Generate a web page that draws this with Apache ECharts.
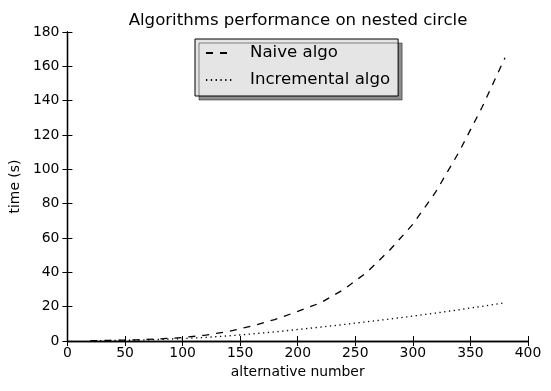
<!DOCTYPE html>
<html>
<head>
<meta charset="utf-8">
<script src="https://cdn.jsdelivr.net/npm/echarts@6/dist/echarts.min.js"></script>
<style>html,body{margin:0;padding:0;background:#fff}#c{width:551px;height:391px}</style>
</head>
<body>
<div id="c"></div>
<script>
var xValues = [20, 40, 60, 80, 100, 120, 140, 160, 180, 200, 220, 240, 260, 280, 300, 320, 340, 360, 380];
var naiveTimes = [0.2, 0.4, 0.7, 1.2, 2.0, 3.4, 5.6, 8.7, 12.5, 17.2, 22.3, 30, 40, 53, 68, 87, 110, 136, 165];
var incrementalTimes = [0.1, 0.3, 0.5, 0.9, 1.4, 2.1, 3.0, 4.1, 5.3, 6.7, 8.1, 9.6, 11.2, 12.8, 14.5, 16.3, 18.2, 20.2, 22.3];
var xTicks = {min: 0, max: 400, interval: 50};
var yTicks = {min: 0, max: 180, interval: 20};

var FONT = 'DejaVu Sans';
function pairs(xs, ys) { return xs.map(function (x, i) { return [x, ys[i]]; }); }

var frameAxis = {
  axisLine: {show: true, lineStyle: {color: '#000', width: 1.3}},
  axisTick: {show: true, inside: true, length: 5, lineStyle: {color: '#000', width: 1}},
  splitLine: {show: false}
};

var chart = echarts.init(document.getElementById('c'), null, {renderer: 'canvas'});
chart.setOption({
  animation: false,
  backgroundColor: '#fff',
  title: {
    text: 'Algorithms performance on nested circle',
    left: 293, textAlign: 'center', top: 7,
    textStyle: {fontFamily: FONT, fontSize: 16.6, fontWeight: 'normal', color: '#000'}
  },
  grid: {left: 64, right: 23, top: 32, bottom: 50, containLabel: false},
  legend: {
    orient: 'vertical',
    left: 195, top: 39,
    padding: [4, 8, 6, 10],
    itemWidth: 27, itemHeight: 20, itemGap: 7,
    backgroundColor: '#e5e5e5',
    borderColor: '#000', borderWidth: 1,
    shadowColor: 'rgba(0,0,0,0.45)', shadowBlur: 0, shadowOffsetX: 4, shadowOffsetY: 4,
    itemStyle: {opacity: 0},
    textStyle: {fontFamily: FONT, fontSize: 16.6, color: '#000', lineHeight: 20, padding: [0, 0, 0, 12]},
    data: ['Naive algo', 'Incremental algo']
  },
  xAxis: [
    Object.assign({type: 'value', position: 'bottom', min: xTicks.min, max: xTicks.max, interval: xTicks.interval,
      name: 'alternative number', nameLocation: 'middle', nameGap: 23,
      nameTextStyle: {fontFamily: FONT, fontSize: 13.9, color: '#000'},
      axisLabel: {fontFamily: FONT, fontSize: 13.9, color: '#000', margin: 5}}, frameAxis),
    Object.assign({type: 'value', position: 'top', min: xTicks.min, max: xTicks.max, interval: xTicks.interval,
      axisLabel: {show: false}}, frameAxis)
  ],
  yAxis: [
    Object.assign({type: 'value', position: 'left', min: yTicks.min, max: yTicks.max, interval: yTicks.interval,
      name: 'time (s)', nameLocation: 'middle', nameGap: 39,
      nameTextStyle: {fontFamily: FONT, fontSize: 13.9, color: '#000'},
      axisLabel: {fontFamily: FONT, fontSize: 13.9, color: '#000', margin: 8}}, frameAxis),
    Object.assign({type: 'value', position: 'right', min: yTicks.min, max: yTicks.max, interval: yTicks.interval,
      axisLabel: {show: false}}, frameAxis)
  ],
  series: [
    {name: 'Naive algo', type: 'line', data: pairs(xValues, naiveTimes), showSymbol: false, symbol: 'none',
      lineStyle: {color: '#000', width: 1.3, type: [7, 7]}, itemStyle: {color: '#000'}},
    {name: 'Incremental algo', type: 'line', data: pairs(xValues, incrementalTimes), showSymbol: false, symbol: 'none',
      lineStyle: {color: '#000', width: 1.3, type: [1.3, 3.5]}, itemStyle: {color: '#000'}}
  ]
});
</script>
</body>
</html>
